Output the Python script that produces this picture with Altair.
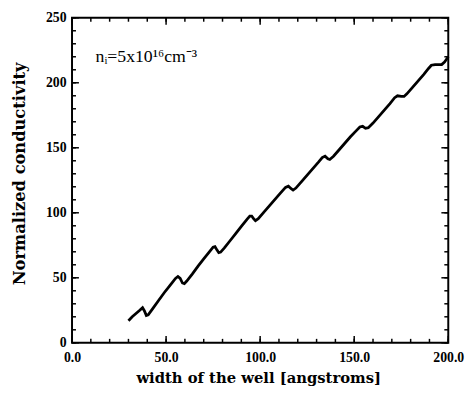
import altair as alt
import pandas as pd

# Curve
width_A = [30, 32, 34, 36, 37.5, 38.5, 39.5, 40.5, 43, 46, 49, 52, 55, 56.3, 57.5, 58.7, 59.7, 61,
           64, 67, 70, 73, 75, 76, 77, 78, 79, 81, 84, 87, 90, 93, 94.5, 95.5, 96.5, 97.5, 99,
           102, 105, 108, 111, 113.5, 115, 116.5, 117.5, 119, 122, 125, 128, 131, 133, 134.5,
           136, 137, 139, 142, 145, 148, 151, 153, 154.5, 156, 157.5, 160, 163, 166, 169, 171.5,
           173, 175, 176.5, 178, 181, 184, 187, 189.5, 191, 193, 195, 196.5, 198, 200]
conductivity = [17, 20, 22.5, 25, 27, 24.5, 21, 21.5, 26.5, 32.5, 38.5, 44, 49.5, 51, 49.5, 46, 45.5, 47.5,
                53, 59, 64.5, 70, 73.5, 74, 71.5, 69.3, 69.8, 73, 78.5, 84, 89.5, 95, 97.5, 97.5, 95.5, 94, 95.5,
                100.5, 105.5, 110.5, 115.5, 119.5, 120.5, 118.5, 117.5, 119, 124, 129, 134, 139, 142.5, 143.5,
                141.5, 141, 143.5, 148.5, 153.5, 158.5, 163, 166, 166.5, 165, 165.5, 169, 174, 179, 184, 188.5,
                190, 189.5, 189.5, 191.5, 196.5, 201.5, 206.5, 211, 213.5, 214, 214, 214, 216, 220]

x_major = [0, 50, 100, 150, 200]
x_minor = list(range(0, 201, 10))
y_major = [0, 50, 100, 150, 200, 250]
y_minor = list(range(0, 251, 10))

annot_text = ["nᵢ=5x10¹⁶cm⁻³"]
annot_x = [12.5]
annot_y = [220]

W, H = 382, 330
FONT_L = "Liberation Serif"
FONT_T = "DejaVu Serif"

xs = alt.Scale(domain=[0, 200], nice=False, zero=False)
ys = alt.Scale(domain=[0, 250], nice=False, zero=False)

xaxis = alt.Axis(
    values=x_major, format=".1f", ticks=False, domain=False, grid=False,
    labelFlush=False, labelOverlap=False,
    labelFont=FONT_L, labelFontWeight="bold", labelFontSize=14, labelColor="black",
    labelPadding=8, title="width of the well [angstroms]",
    titleFont=FONT_T, titleFontWeight="bold", titleFontSize=15, titleColor="black",
    titleX=W / 2 - 2, titleY=35, titleBaseline="middle", titleAlign="center")
yaxis = alt.Axis(
    values=y_major, format="d", ticks=False, domain=False, grid=False,
    labelFlush=False, labelOverlap=False,
    labelFont=FONT_L, labelFontWeight="bold", labelFontSize=14, labelColor="black",
    labelPadding=6, title="Normalized  conductivity",
    titleFont=FONT_T, titleFontWeight="bold", titleFontSize=16.5, titleColor="black",
    titleX=-53, titleY=H / 2 - 7, titleAngle=-90, titleBaseline="middle", titleAlign="center")

df = pd.DataFrame({"x": width_A, "y": conductivity})

line = alt.Chart(df).mark_line(color="black", strokeWidth=2.8).encode(
    x=alt.X("x:Q", scale=xs, axis=xaxis),
    y=alt.Y("y:Q", scale=ys, axis=yaxis),
)

xmin_df = pd.DataFrame({"t": x_minor})
xmaj_df = pd.DataFrame({"t": x_major})
ymin_df = pd.DataFrame({"t": y_minor})
ymaj_df = pd.DataFrame({"t": y_major})

def xticks(d, length):
    base = alt.Chart(d).mark_rule(color="black", strokeWidth=1.5)
    bot = base.encode(x=alt.X("t:Q", scale=xs, axis=xaxis), y=alt.value(H), y2=alt.value(H - length))
    top = base.encode(x=alt.X("t:Q", scale=xs, axis=xaxis), y=alt.value(0), y2=alt.value(length))
    return [bot, top]

def yticks(d, length):
    base = alt.Chart(d).mark_rule(color="black", strokeWidth=1.5)
    left = base.encode(y=alt.Y("t:Q", scale=ys, axis=yaxis), x=alt.value(0), x2=alt.value(length))
    right = base.encode(y=alt.Y("t:Q", scale=ys, axis=yaxis), x=alt.value(W), x2=alt.value(W - length))
    return [left, right]

ticks = xticks(xmin_df, 4) + xticks(xmaj_df, 7) + yticks(ymin_df, 4) + yticks(ymaj_df, 7)

annot = alt.Chart(pd.DataFrame({"x": annot_x, "y": annot_y, "t": annot_text})).mark_text(
    font=FONT_L, fontSize=18, color="black", align="left", baseline="middle"
).encode(x=alt.X("x:Q", scale=xs, axis=xaxis), y=alt.Y("y:Q", scale=ys, axis=yaxis), text="t:N")

chart = alt.layer(line, *ticks, annot).properties(
    width=W, height=H,
    background="white",
    padding={"left": 65, "top": 7, "right": 18, "bottom": 45},
    autosize=alt.AutoSizeParams(type="none"),
).configure_view(stroke="black", strokeWidth=2)

chart.save("out.html", embed_options={"renderer": "svg", "actions": False})
